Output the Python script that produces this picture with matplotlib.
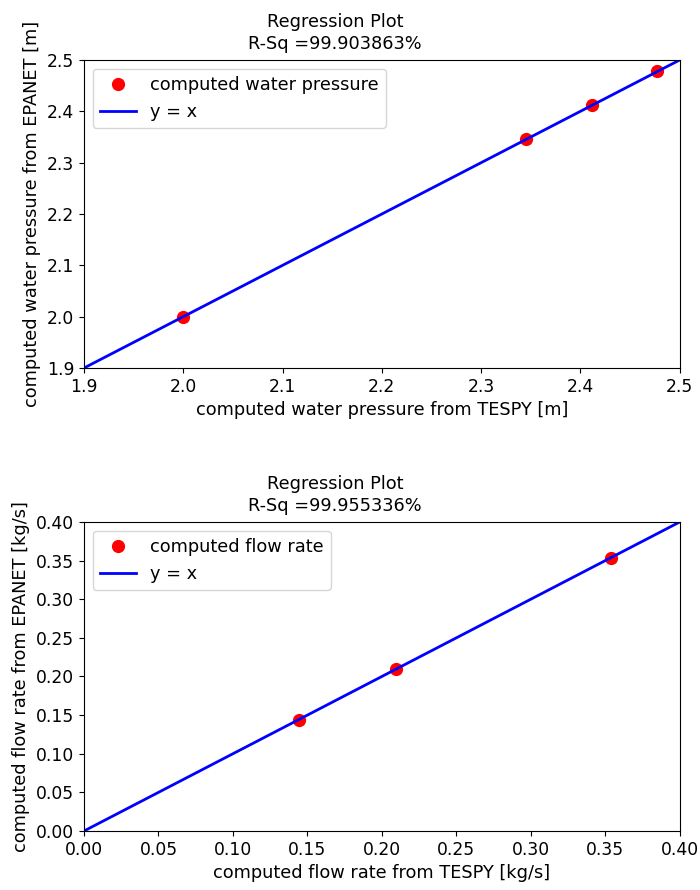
import numpy as np
import matplotlib
matplotlib.use('Agg')
import matplotlib.pyplot as plt

# pressure results (m)
p_tespy = [2.000, 2.345, 2.412, 2.477]
p_epanet = [2.000, 2.346, 2.413, 2.478]
p_rsq = 99.903863

# flow results (kg/s)
m_tespy = [0.1443, 0.2094, 0.3537]
m_epanet = [0.1438, 0.2097, 0.3534]
m_rsq = 99.955336

plt.rcParams['font.size'] = 12.8
plt.rcParams['xtick.labelsize'] = 12.3
plt.rcParams['ytick.labelsize'] = 12.3

fig = plt.figure(figsize=(7, 8.9), dpi=100)
ax1 = fig.add_axes([0.12, 0.5865, 0.851, 0.3461])
ax2 = fig.add_axes([0.12, 0.0663, 0.851, 0.3472])


def regplot(ax, x, y, rsq, lims, ticks, label, xlabel, ylabel, fmt):
    ax.plot(x, y, 'o', color='red', markersize=8.5, label=label)
    ax.plot(lims, lims, color='blue', linewidth=2, label='y = x')
    ax.set_xlim(lims)
    ax.set_ylim(lims)
    ax.set_xticks(ticks)
    ax.set_yticks(ticks)
    ax.set_xticklabels([fmt % t for t in ticks])
    ax.set_yticklabels([fmt % t for t in ticks])
    ax.set_title('Regression Plot\nR-Sq =%f%%' % rsq, fontsize=12.8,
                 x=0.421, pad=8, linespacing=1.3)
    ax.set_xlabel(xlabel)
    ax.set_ylabel(ylabel)
    ax.legend(loc='upper left')


regplot(ax1, p_tespy, p_epanet, p_rsq, [1.9, 2.5], np.arange(1.9, 2.51, 0.1),
        'computed water pressure',
        'computed water pressure from TESPY [m]',
        'computed water pressure from EPANET [m]', '%.1f')
regplot(ax2, m_tespy, m_epanet, m_rsq, [0.0, 0.4], np.arange(0.0, 0.401, 0.05),
        'computed flow rate',
        'computed flow rate from TESPY [kg/s]',
        'computed flow rate from EPANET [kg/s]', '%.2f')

fig.savefig('out.png', dpi=100)
